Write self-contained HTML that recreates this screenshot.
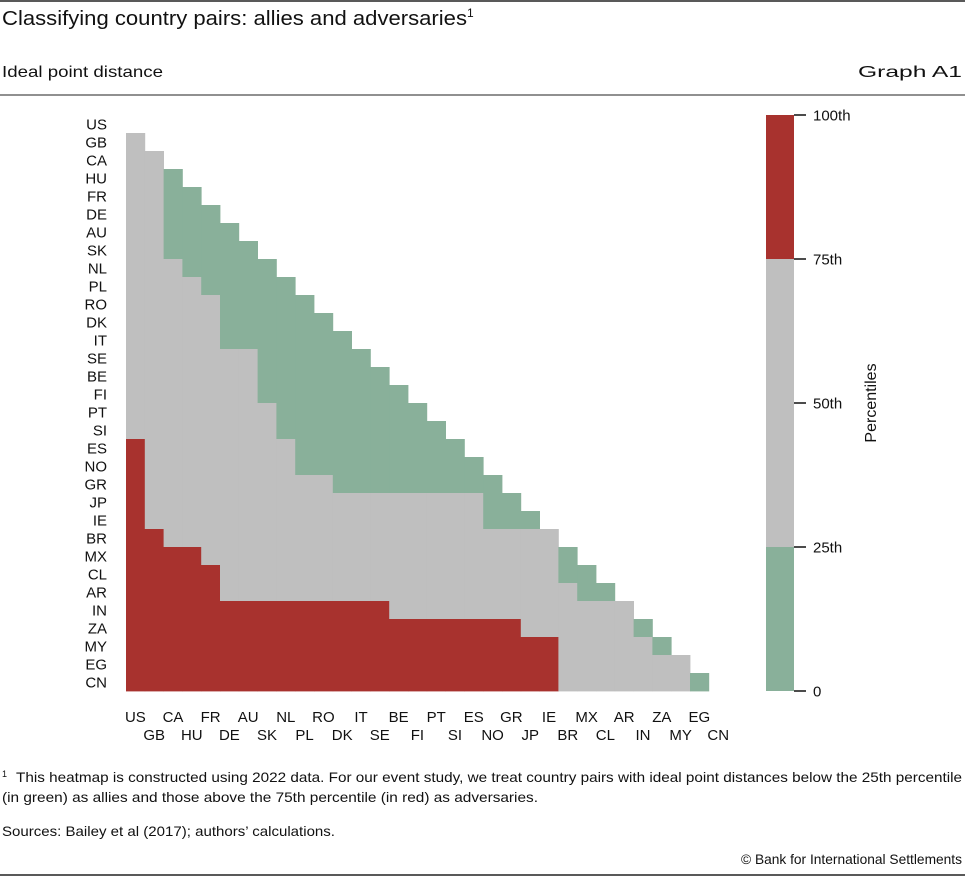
<!DOCTYPE html>
<html><head><meta charset="utf-8"><style>
body{margin:0;background:#fff;}
svg{display:block;font-family:"Liberation Sans",sans-serif;}
</style></head><body>
<svg width="965" height="876" viewBox="0 0 965 876">
<line x1="0" y1="1" x2="965" y2="1" stroke="#222" stroke-width="1.5"/>
<text x="2" y="25" font-size="20" fill="#111"><tspan textLength="465" lengthAdjust="spacingAndGlyphs">Classifying country pairs: allies and adversaries</tspan><tspan font-size="12" dy="-8">1</tspan></text>
<text x="2" y="77" font-size="16" fill="#111" textLength="161" lengthAdjust="spacingAndGlyphs">Ideal point distance</text>
<text x="858" y="77" font-size="16" fill="#111" textLength="104" lengthAdjust="spacingAndGlyphs">Graph A1</text>
<line x1="0" y1="95" x2="965" y2="95" stroke="#222" stroke-width="1"/>
<g id="heat"></g>
<g id="rowlabels"></g>
<g id="collabels"></g>
<g id="cbar"></g>
<text transform="translate(876,403) rotate(-90)" font-size="16" text-anchor="middle" fill="#111">Percentiles</text>
<text x="2" y="782" font-size="14" fill="#111"><tspan font-size="9" dy="-5">1</tspan><tspan dy="5" x="16" textLength="946" lengthAdjust="spacingAndGlyphs">This heatmap is constructed using 2022 data. For our event study, we treat country pairs with ideal point distances below the 25th percentile</tspan></text>
<text x="2" y="802" font-size="14" fill="#111" textLength="536" lengthAdjust="spacingAndGlyphs">(in green) as allies and those above the 75th percentile (in red) as adversaries.</text>
<text x="2" y="836" font-size="14" fill="#111" textLength="333" lengthAdjust="spacingAndGlyphs">Sources: Bailey et al (2017); authors’ calculations.</text>
<text x="741" y="864" font-size="14" fill="#111" textLength="221" lengthAdjust="spacingAndGlyphs">© Bank for International Settlements</text>
<line x1="0" y1="875" x2="965" y2="875" stroke="#222" stroke-width="1.5"/>
</svg>
<script>
const countries = ["US","GB","CA","HU","FR","DE","AU","SK","NL","PL","RO","DK","IT","SE","BE","FI","PT","SI","ES","NO","GR","JP","IE","BR","MX","CL","AR","IN","ZA","MY","EG","CN"];
// category per cell: G = below 25th, N = 25th-75th, R = above 75th
const cellCategories = [
"",
"N",
"NN",
"NNG",
"NNGG",
"NNGGG",
"NNGGGG",
"NNGGGGG",
"NNNGGGGG",
"NNNNGGGGG",
"NNNNNGGGGG",
"NNNNNGGGGGG",
"NNNNNGGGGGGG",
"NNNNNNNGGGGGG",
"NNNNNNNGGGGGGG",
"NNNNNNNGGGGGGGG",
"NNNNNNNNGGGGGGGG",
"NNNNNNNNGGGGGGGGG",
"RNNNNNNNNGGGGGGGGG",
"RNNNNNNNNGGGGGGGGGG",
"RNNNNNNNNNNGGGGGGGGG",
"RNNNNNNNNNNNNNNNNNNGG",
"RNNNNNNNNNNNNNNNNNNGGG",
"RRNNNNNNNNNNNNNNNNNNNNN",
"RRRRNNNNNNNNNNNNNNNNNNNG",
"RRRRRNNNNNNNNNNNNNNNNNNGG",
"RRRRRNNNNNNNNNNNNNNNNNNNGG",
"RRRRRRRRRRRRRRNNNNNNNNNNNNN",
"RRRRRRRRRRRRRRRRRRRRRNNNNNNG",
"RRRRRRRRRRRRRRRRRRRRRRRNNNNNG",
"RRRRRRRRRRRRRRRRRRRRRRRNNNNNNN",
"RRRRRRRRRRRRRRRRRRRRRRRNNNNNNNG"
];
const colorbarTicks = [0,25,50,75,100];
const colorbarLabels = ["0","25th","50th","75th","100th"];
const colorbarBands = [[0,25,"G"],[25,75,"N"],[75,100,"R"]];

const NS="http://www.w3.org/2000/svg";
const colors={G:"#89b09a",N:"#bfbfbf",R:"#a8322e"};
const X0=126, CW=18.8, Y0=115, RH=18;
const xPos=j=>X0+j*CW, yPos=i=>Y0+i*RH;
function mk(tag,attrs){const e=document.createElementNS(NS,tag);for(const k in attrs)e.setAttribute(k,attrs[k]);return e;}
const heat=document.getElementById('heat');
cellCategories.forEach((row,i)=>{
  for(let j=0;j<row.length;j++){
    const r=mk('rect',{x:xPos(j),y:yPos(i),width:CW+0.4,height:RH+0.4,fill:colors[row[j]]});
    
    
    heat.appendChild(r);
  }
});
const rl=document.getElementById('rowlabels');
countries.forEach((c,i)=>{
  const t=mk('text',{x:107,y:yPos(i)+RH/2+5.5,'font-size':15,'text-anchor':'end',fill:'#111'});
  t.textContent=c;
  
  
  rl.appendChild(t);
});
const cl=document.getElementById('collabels');
countries.forEach((c,j)=>{
  const t=mk('text',{x:xPos(j)+CW/2,y:(j%2?740:722),'font-size':15,'text-anchor':'middle',fill:'#111'});
  t.textContent=c;
  
  
  cl.appendChild(t);
});
const cb=document.getElementById('cbar');
const CBX=766,CBW=28,CBT=115,CBB=691;
const cy=v=>CBB-(v/100)*(CBB-CBT);
colorbarBands.forEach(b=>{
  const r=mk('rect',{x:CBX,y:cy(b[1]),width:CBW,height:cy(b[0])-cy(b[1]),fill:colors[b[2]]});
  
  
  cb.appendChild(r);
});
colorbarTicks.forEach((v,k)=>{
  const l=mk('line',{x1:CBX+CBW,x2:CBX+CBW+12,y1:cy(v),y2:cy(v),stroke:'#111','stroke-width':1.5});
  
  
  cb.appendChild(l);
  const t=mk('text',{x:CBX+CBW+19,y:cy(v)+5.5,'font-size':15,fill:'#111'});
  t.textContent=colorbarLabels[k];
  
  
  cb.appendChild(t);
});
</script>
</body></html>
